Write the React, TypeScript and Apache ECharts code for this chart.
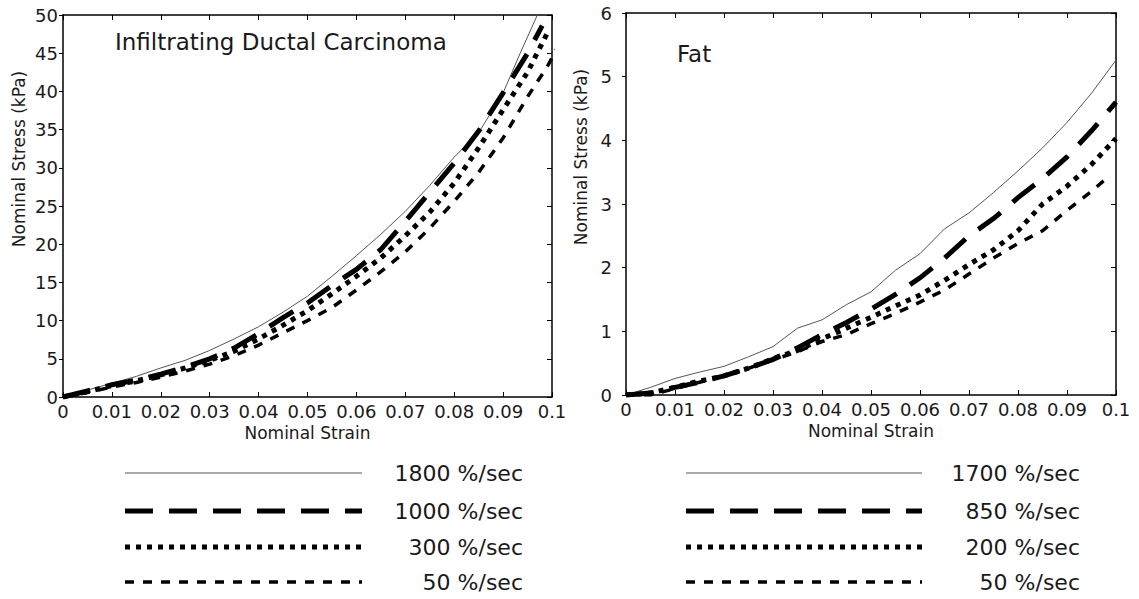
import React, { useEffect, useRef } from "react";
import * as echarts from "echarts";

// ---------- Data ----------
// Left panel: Infiltrating Ductal Carcinoma
const idc1800Strain = [0, 0.005, 0.01, 0.015, 0.02, 0.025, 0.03, 0.035, 0.04, 0.045, 0.05, 0.055, 0.06, 0.065, 0.07, 0.075, 0.08, 0.085, 0.09, 0.0935, 0.097];
const idc1800Stress = [0, 0.9, 1.8, 2.7, 3.8, 4.8, 6.1, 7.6, 9.2, 11.1, 13.2, 15.8, 18.5, 21.3, 24.3, 27.7, 31.4, 34.6, 39.8, 45.0, 50.0];

const idc1000Strain = [0, 0.005, 0.01, 0.015, 0.02, 0.025, 0.03, 0.035, 0.04, 0.045, 0.05, 0.055, 0.06, 0.065, 0.07, 0.075, 0.08, 0.085, 0.09, 0.095, 0.098];
const idc1000Stress = [0, 0.8, 1.6, 2.2, 3.0, 3.9, 5.0, 6.4, 8.3, 10.4, 12.3, 14.6, 16.7, 19.3, 23.0, 26.8, 30.6, 34.8, 39.8, 45.0, 48.6];

const idc300Strain = [0, 0.005, 0.01, 0.015, 0.02, 0.025, 0.03, 0.035, 0.04, 0.045, 0.05, 0.055, 0.06, 0.065, 0.07, 0.075, 0.08, 0.085, 0.09, 0.095, 0.099];
const idc300Stress = [0, 0.7, 1.5, 2.1, 2.9, 3.8, 4.8, 6.0, 7.6, 9.4, 11.3, 13.5, 15.8, 18.2, 21.1, 24.2, 28.0, 32.6, 37.6, 42.5, 47.6];

const idc50Strain = [0, 0.005, 0.01, 0.015, 0.02, 0.025, 0.03, 0.035, 0.04, 0.045, 0.05, 0.055, 0.06, 0.065, 0.07, 0.075, 0.08, 0.085, 0.09, 0.095, 0.099, 0.101];
const idc50Stress = [0, 0.6, 1.3, 1.9, 2.6, 3.4, 4.3, 5.4, 6.8, 8.4, 10.0, 11.7, 14.0, 16.4, 19.0, 22.1, 25.6, 29.4, 33.9, 39.3, 43.2, 45.6];

// Right panel: Fat
const fatStrain = [0, 0.005, 0.01, 0.015, 0.02, 0.025, 0.03, 0.035, 0.04, 0.045, 0.05, 0.055, 0.06, 0.065, 0.07, 0.075, 0.08, 0.085, 0.09, 0.095, 0.1];
const fat1700Stress = [0, 0.12, 0.26, 0.36, 0.45, 0.6, 0.76, 1.05, 1.18, 1.42, 1.62, 1.96, 2.22, 2.61, 2.86, 3.18, 3.52, 3.88, 4.28, 4.74, 5.26];
const fat850Stress = [0, 0.03, 0.12, 0.2, 0.3, 0.42, 0.56, 0.74, 0.95, 1.14, 1.35, 1.58, 1.84, 2.15, 2.5, 2.77, 3.1, 3.4, 3.74, 4.15, 4.6];
const fat200Stress = [0, 0.03, 0.12, 0.22, 0.3, 0.42, 0.57, 0.7, 0.88, 1.05, 1.22, 1.4, 1.57, 1.8, 2.05, 2.28, 2.58, 3.0, 3.28, 3.62, 4.03];
const fat50Strain = [0, 0.005, 0.01, 0.015, 0.02, 0.025, 0.03, 0.035, 0.04, 0.045, 0.05, 0.055, 0.06, 0.065, 0.07, 0.075, 0.08, 0.085, 0.09, 0.095, 0.098];
const fat50Stress = [0, 0.0, 0.1, 0.2, 0.3, 0.42, 0.55, 0.68, 0.84, 0.95, 1.12, 1.28, 1.46, 1.65, 1.9, 2.15, 2.38, 2.58, 2.9, 3.2, 3.4];

const leftLegend = ["1800 %/sec", "1000 %/sec", "300 %/sec", "50 %/sec"];
const rightLegend = ["1700 %/sec", "850 %/sec", "200 %/sec", "50 %/sec"];

const xAxisName = "Nominal Strain";
const yAxisName = "Nominal Stress (kPa)";
const leftTitle = "Infiltrating Ductal Carcinoma";
const rightTitle = "Fat";

// ---------- Styles ----------
const FONT = "'DejaVu Sans', sans-serif";
const TXT = "#1a1a1a";
const styles = [
  { color: "#555555", width: 1, type: "solid" as any },
  { color: "#000000", width: 5, type: [28, 16] },
  { color: "#000000", width: 5, type: [5, 6] },
  { color: "#000000", width: 3.5, type: [9, 9] },
];

const zip = (xs: number[], ys: number[]) => xs.map((x, i) => [x, ys[i]]);

function xAxisDef(gridIndex: number, position: "bottom" | "top", labels: boolean) {
  return {
    type: "value",
    gridIndex,
    position,
    min: 0,
    max: 0.1,
    interval: 0.01,
    name: labels ? xAxisName : "",
    nameLocation: "middle",
    nameGap: 25,
    nameTextStyle: { fontFamily: FONT, fontSize: 17, color: TXT },
    axisLine: { show: true, onZero: false, lineStyle: { color: "#000", width: 1.5 } },
    axisTick: { show: true, inside: true, length: 5, lineStyle: { color: "#000", width: 1 } },
    axisLabel: {
      show: labels,
      fontFamily: FONT,
      fontSize: 18,
      color: TXT,
      margin: 5,
      formatter: (v: number) => String(Number(v.toFixed(3))),
    },
    splitLine: { show: false },
  };
}

function yAxisDef(gridIndex: number, position: "left" | "right", max: number, interval: number, margin: number) {
  const labels = position === "left";
  return {
    type: "value",
    gridIndex,
    position,
    min: 0,
    max,
    interval,
    axisLine: { show: true, onZero: false, lineStyle: { color: "#000", width: 1.5 } },
    axisTick: { show: true, inside: !labels, length: labels ? 4 : 5, lineStyle: { color: "#000", width: 1 } },
    axisLabel: { show: labels, fontFamily: FONT, fontSize: 18, color: TXT, margin },
    splitLine: { show: false },
  };
}

function lineSeries(name: string, xi: number, yi: number, data: number[][], s: any, clip = true) {
  return {
    type: "line",
    name,
    xAxisIndex: xi,
    yAxisIndex: yi,
    data,
    showSymbol: false,
    symbol: "none",
    clip,
    lineStyle: { color: s.color, width: s.width, type: s.type, cap: "butt", join: "miter" },
  };
}

function legendGraphics(labels: string[], x1: number, x2: number, textRight: number) {
  const rows = [473, 511, 547, 582];
  const out: any[] = [];
  labels.forEach((lab, i) => {
    const s = styles[i];
    out.push({
      type: "line",
      shape: { x1, y1: rows[i], x2, y2: rows[i] },
      style: {
        stroke: s.color,
        lineWidth: s.width,
        lineDash: Array.isArray(s.type) ? s.type : null,
        lineCap: "butt",
      },
    });
    out.push({
      type: "text",
      x: textRight,
      y: rows[i],
      style: { text: lab, fontFamily: FONT, fontSize: 22, fill: TXT, align: "right", verticalAlign: "middle" },
    });
  });
  return out;
}

export default function App() {
  const ref = useRef<HTMLDivElement>(null);
  useEffect(() => {
    if (!ref.current) return;
    const chart = echarts.init(ref.current, undefined, { renderer: "svg" });
    const option: any = {
      animation: false,
      backgroundColor: "#ffffff",
      grid: [
        { left: 63, top: 15, width: 489, height: 382 },
        { left: 626, top: 13, width: 490, height: 382 },
      ],
      xAxis: [
        xAxisDef(0, "bottom", true),
        xAxisDef(0, "top", false),
        xAxisDef(1, "bottom", true),
        xAxisDef(1, "top", false),
      ],
      yAxis: [
        yAxisDef(0, "left", 50, 5, 5),
        yAxisDef(0, "right", 50, 5, 5),
        yAxisDef(1, "left", 6, 1, 14),
        yAxisDef(1, "right", 6, 1, 14),
      ],
      series: [
        lineSeries(leftLegend[0], 0, 0, zip(idc1800Strain, idc1800Stress), styles[0]),
        lineSeries(leftLegend[1], 0, 0, zip(idc1000Strain, idc1000Stress), styles[1]),
        lineSeries(leftLegend[2], 0, 0, zip(idc300Strain, idc300Stress), styles[2]),
        lineSeries(leftLegend[3], 0, 0, zip(idc50Strain, idc50Stress), styles[3], false),
        lineSeries(rightLegend[0], 2, 2, zip(fatStrain, fat1700Stress), styles[0]),
        lineSeries(rightLegend[1], 2, 2, zip(fatStrain, fat850Stress), styles[1]),
        lineSeries(rightLegend[2], 2, 2, zip(fatStrain, fat200Stress), styles[2]),
        lineSeries(rightLegend[3], 2, 2, zip(fat50Strain, fat50Stress), styles[3]),
      ],
      graphic: [
        {
          type: "text",
          x: 19,
          y: 159,
          rotation: Math.PI / 2,
          style: { text: yAxisName, fontFamily: FONT, fontSize: 17, fill: TXT, align: "center", verticalAlign: "middle" },
        },
        {
          type: "text",
          x: 581,
          y: 157,
          rotation: Math.PI / 2,
          style: { text: yAxisName, fontFamily: FONT, fontSize: 17, fill: TXT, align: "center", verticalAlign: "middle" },
        },
        {
          type: "text",
          x: 115,
          y: 42,
          style: { text: leftTitle, fontFamily: FONT, fontSize: 23, fill: TXT, align: "left", verticalAlign: "middle" },
        },
        {
          type: "text",
          x: 677,
          y: 54,
          style: { text: rightTitle, fontFamily: FONT, fontSize: 23, fill: TXT, align: "left", verticalAlign: "middle" },
        },
        ...legendGraphics(leftLegend, 125, 362, 523),
        ...legendGraphics(rightLegend, 686, 922, 1080),
      ],
    };
    chart.setOption(option);
    return () => chart.dispose();
  }, []);
  return (
    <div
      ref={ref}
      style={{ position: "fixed", left: 0, top: 0, width: 1139, height: 599, background: "#fff" }}
    />
  );
}
